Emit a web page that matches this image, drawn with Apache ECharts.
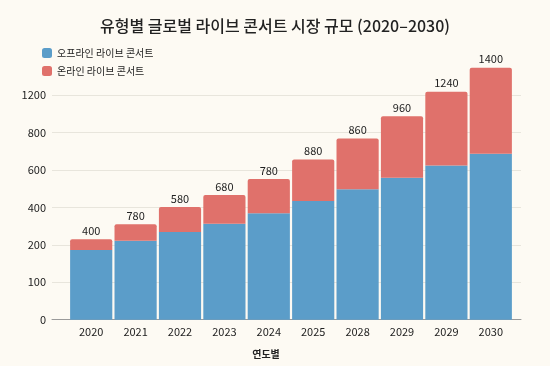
<!DOCTYPE html>
<html><head><meta charset="utf-8">
<script src="https://cdn.jsdelivr.net/npm/echarts@6/dist/echarts.min.js"></script>
<style>html,body{margin:0;padding:0;background:#fdfaf3;}#c{width:550px;height:366px;}</style>
</head><body><div id="c"></div>
<script>
// Data (values in the chart's axis units: each gridline step = 100 units)
const categories = ['2020','2021','2022','2023','2024','2025','2028','2029','2029','2030'];
const offlineValues = [186, 211, 234, 256, 284, 317, 348, 379, 412, 443];
const onlineValues  = [29, 44, 67, 77, 92, 111, 136, 164, 197, 230];
const topLabels = ['400','780','580','680','780','880','860','960','1240','1400'];
const yTickLabels = ['0','100','200','400','600','800','1200'];
const seriesNames = ['오프라인 라이브 콘서트', '온라인 라이브 콘서트'];

const FONT = "'Noto Sans CJK KR','Noto Sans',sans-serif";
const chart = echarts.init(document.getElementById('c'), null, {renderer:'canvas'});
const axisBottom = 46.3;
const pxPerUnit = 0.3745;
chart.setOption({
  backgroundColor: '#fdfaf3',
  textStyle: {fontFamily: FONT},
  title: [
    {text: '유형별 글로벌 라이브 콘서트 시장 규모 (2020–2030)', left: 'center', top: 13,
     textStyle: {fontSize: 16, fontWeight: 500, color: '#222', fontFamily: FONT}},
    {text: '연도별', left: 261, top: 344, textAlign: 'center',
     textStyle: {fontSize: 10, fontWeight: 'bold', color: '#222', fontFamily: FONT}}
  ],
  legend: {
    orient: 'vertical', left: 42, top: 48, padding: 0, itemWidth: 10, itemHeight: 10, itemGap: 8,
    icon: 'roundRect',
    textStyle: {fontSize: 10, color: '#222', fontFamily: FONT},
    data: seriesNames
  },
  grid: [
    {left: 52, right: 29, top: 319.7 - 600 * pxPerUnit, bottom: axisBottom},
    {left: 69, right: 37, top: 319.7 - 700 * pxPerUnit, bottom: axisBottom}
  ],
  xAxis: [
    {type: 'category', gridIndex: 0, data: categories, axisLine: {lineStyle: {color: '#9a9a9a'}},
     axisTick: {show: false}, axisLabel: {show: false}},
    {type: 'category', gridIndex: 1, data: categories, axisLine: {show: false},
     axisTick: {show: false},
     axisLabel: {fontSize: 11, color: '#222', margin: 7, fontFamily: FONT}}
  ],
  yAxis: [
    {type: 'value', gridIndex: 0, min: 0, max: 600, interval: 100,
     axisLine: {show: false}, axisTick: {show: false},
     axisLabel: {fontSize: 11, color: '#222', margin: 6, fontFamily: FONT,
       formatter: (v) => yTickLabels[Math.round(v / 100)] ?? ''},
     splitLine: {lineStyle: {color: '#e8e5dc', width: 1}}},
    {type: 'value', gridIndex: 1, min: 0, max: 700, show: false, splitLine: {show: false}}
  ],
  series: [
    {name: seriesNames[0], type: 'bar', stack: 'total', xAxisIndex: 1, yAxisIndex: 1,
     data: offlineValues, barCategoryGap: '5%', itemStyle: {color: '#5b9dc9'}},
    {name: seriesNames[1], type: 'bar', stack: 'total', xAxisIndex: 1, yAxisIndex: 1,
     data: onlineValues, barCategoryGap: '5%',
     itemStyle: {color: '#e0716b', borderRadius: [2, 2, 0, 0]},
     label: {show: true, position: 'top', distance: 3, fontSize: 11, color: '#222', fontFamily: FONT,
       formatter: (p) => topLabels[p.dataIndex]}}
  ]
});
</script></body></html>
